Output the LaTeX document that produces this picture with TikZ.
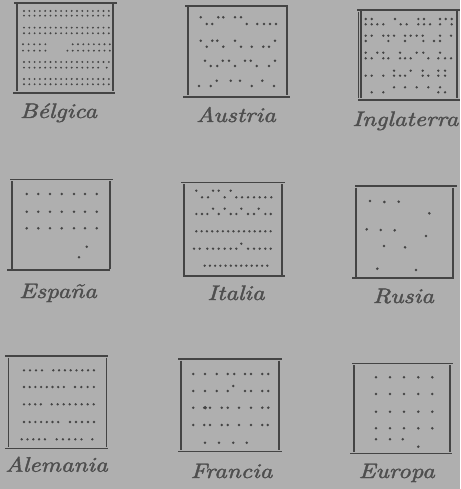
\documentclass[tikz,border=0pt]{standalone}
\usepackage{tikz}
\usepackage{fontspec}
\newfontfamily\labfont{lmroman10-italic.otf}[FakeBold=1.6]
\definecolor{bgc}{RGB}{175,175,175}
\definecolor{ink}{RGB}{68,68,68}
\definecolor{txt}{RGB}{78,78,78}
\newcommand\drow[3]{\foreach \xx in {#3} {\fill[ink] (\xx,#2) circle[radius=#1];}}
\newcommand\bxframe[8]{%
  \draw[hline] (#5,#3) -- (#6,#3);
  \draw[hline] (#7,#4) -- (#8,#4);
  \draw[vline] (#1,#3+1.5) -- (#1,#4-1.5);
  \draw[vline] (#2,#3+1.5) -- (#2,#4-1.5);
}
\tikzset{
  hline/.style={draw=ink,line width=1.5pt},
  vline/.style={draw=ink,line width=1.1pt},
  lab/.style={text=txt,font=\fontsize{21}{24}\labfont,xscale=1.18,inner sep=0pt,anchor=base},
}
\begin{document}
\begin{tikzpicture}[x=1pt,y=-1pt]
\useasboundingbox (0,0) rectangle (460,489);
\fill[bgc] (0,0) rectangle (460,489);

% ---------------- Belgica
\bxframe{17}{113}{3}{93}{14}{117}{13}{115}
\def\rB{1.05pt}
\foreach \yy in {11,15.7,27.7,33.3,79,84.3}{
  \foreach \i in {0,...,16}{\fill[ink] ({24+5.3*\i},\yy) circle[radius=\rB];}}
\foreach \i in {0,...,4}{\fill[ink] ({23+5.6*\i},44.3) circle[radius=\rB];
                        \fill[ink] ({23+5.6*\i},50.7) circle[radius=\rB];}
\foreach \i in {0,...,7}{\fill[ink] ({72.7+5.3*\i},44.3) circle[radius=\rB];}
\foreach \i in {0,...,8}{\fill[ink] ({67.4+5.3*\i},50.7) circle[radius=\rB];}
\foreach \i in {0,...,16}{\fill[ink] ({24+5.3*\i},62) circle[radius=\rB];}
\foreach \i in {0,...,14}{\fill[ink] ({24+5.3*\i},67.7) circle[radius=\rB];}
\fill[ink] (106.7,67.7) circle[radius=\rB];
\node[lab] (belgica) at (58.5,118) {Bélgica};

% ---------------- Austria
\def\rS{1.4pt}
\bxframe{188}{287}{6}{97}{185}{288}{183}{290}
\drow{\rS}{17.3}{200.7,218.3,223.3,235,241}
\drow{\rS}{24}{206.7,212.3,246.7,257.3,264,270,276}
\drow{\rS}{40.7}{200.7,212.3,217.3,235,275}
\drow{\rS}{46.7}{206.7,223.3,241,251.7,263.3,269}
\drow{\rS}{60.7}{205,222.7,229,245,250.7,275}
\drow{\rS}{66}{210.7,217.3,235,256.7,269}
\drow{\rS}{80.7}{216.7,230.7,240,262.3}
\drow{\rS}{86}{199,210.7,251.7,274}
\node[lab] (austria) at (236,122) {Austria};

% ---------------- Inglaterra
\def\rI{1.3pt}
\bxframe{361}{457}{10}{100}{357}{460}{358}{460}
\draw[vline,line width=0.8pt] (358,12) -- (358,98);
\drow{\rI}{19}{365.7,371.7,395,418.3,424,440,445.7,451.7}
\drow{\rI}{24.3}{365.7,371.7,377.3,383.3,400.7,406.7,418.3,424,430,440,451.7}
\drow{\rI}{35.7}{365.7,371.7,383.3,388.3,394,405,410.7,416.7,422.7,440,451}
\drow{\rI}{41}{365.7,388.3,405,423.3,434,440}
\drow{\rI}{52.7}{365.7,377.3,383.3,400,416.7,423.3,440}
\drow{\rI}{58.3}{365.7,371.7,383.3,388.3,400,405,410.7,428.3,438.3,445,451}
\drow{\rI}{70.7}{394,410.7,422.7,438.3,445}
\drow{\rI}{75.7}{365.7,371.7,383.3,394,400,405,422.7,428.3,438.3,445}
\drow{\rI}{87.3}{394,405,416.7,428.3,440}
\drow{\rI}{92.3}{371.7,383.3,438.3,445}
\node[lab,anchor=base east] (inglaterra) at (458.5,126) {Inglaterra};

% ---------------- Espana
\bxframe{12}{110}{179.5}{270}{10}{113}{7}{110}
\foreach \yy in {194,211.7,228.3}{\drow{\rS}{\yy}{26.7,38.3,50,61.7,74,85,96.7}}
\fill[ink] (86.7,246.7) circle[radius=\rS];
\fill[ink] (79,257.3) circle[radius=\rS];
\node[lab] (espana) at (58,298) {España};

% ---------------- Italia
\bxframe{184}{282}{182.5}{276}{181}{285}{183}{285}
\drow{\rI}{190.7}{196.3,213,218.7,230.7}
\drow{\rI}{197.3}{202,208,224.7,236.3,242,248,254,259.7,265.3,271.3}
\drow{\rI}{208.7}{213,224.7,241.3,258.7}
\drow{\rI}{214}{196.3,202,207.3,218.7,230.7,236.3,248,254,265.3,270.7}
\foreach \i in {0,...,14}{\fill[ink] ({196.3+5.31*\i},231.3) circle[radius=\rI];}
\fill[ink] (241.3,243.7) circle[radius=\rI];
\drow{\rI}{248.7}{194,199.7,207.3,213,218.7,224.7,230.7,236.3,248,254,259.7,265.3,270.7}
\foreach \i in {0,...,12}{\fill[ink] ({204.7+5.22*\i},265.7) circle[radius=\rI];}
\node[lab] (italia) at (236,300) {Italia};

% ---------------- Rusia
\bxframe{356}{453}{186}{278}{355}{457}{352}{454}
\foreach \p in {(370,201),(384.3,202),(398.7,201.7),(429.3,213.3),(366.7,229.3),(380.7,230),(394.7,230.3),(426,236),(384,246),(405,247.3),(377.3,268.7),(416,270)}
  {\fill[ink] \p circle[radius=1.45pt];}
\node[lab] (rusia) at (403.3,303) {Rusia};

% ---------------- Alemania
\bxframe{8.5}{106.5}{356}{448.5}{5}{108}{5}{108}
\def\rA{1.3pt}
\foreach \i in {0,...,3}{\fill[ink] ({24+6*\i},370.3) circle[radius=\rA];}
\foreach \i in {0,...,7}{\fill[ink] ({53.3+5.8*\i},370.3) circle[radius=\rA];}
\foreach \i in {0,...,7}{\fill[ink] ({24+5.7*\i},387) circle[radius=\rA];}
\foreach \i in {0,...,3}{\fill[ink] ({75+6.3*\i},387) circle[radius=\rA];}
\foreach \i in {0,...,3}{\fill[ink] ({24+5.6*\i},404.3) circle[radius=\rA];}
\foreach \i in {0,...,7}{\fill[ink] ({51.7+6*\i},404.3) circle[radius=\rA];}
\foreach \i in {0,...,6}{\fill[ink] ({24+5.7*\i},422) circle[radius=\rA];}
\foreach \i in {0,...,4}{\fill[ink] ({70+6*\i},422) circle[radius=\rA];}
\foreach \i in {0,...,4}{\fill[ink] ({21.7+5.8*\i},439.3) circle[radius=\rA];}
\foreach \i in {0,...,4}{\fill[ink] ({56.7+6.2*\i},439.3) circle[radius=\rA];}
\fill[ink] (92.3,439.3) circle[radius=\rA];
\node[lab] (alemania) at (56.5,471.7) {Alemania};

% ---------------- Francia
\bxframe{181}{279}{359}{451.5}{178}{282}{178}{282}
\drow{\rS}{374}{193.3,205,216.7,227.7,234.3,245,251,262.3,268.3}
\fill[ink] (233.3,386) circle[radius=\rS];
\drow{\rS}{391}{193.3,205,216.7,227.7,245,251,262.3,268.3}
\drow{\rS}{407.7}{193.3,204.3,210,221.7,227.7,239,251,262.3,268.3}
\fill[ink] (205.3,407.7) circle[radius=1.8pt];
\drow{\rS}{425}{193.3,204.3,210,221.7,227.7,239,251,262.3,267.7}
\drow{\rS}{442.7}{205,219,233.3,246.7}
\node[lab] (francia) at (231.5,478) {Francia};

% ---------------- Europa
\bxframe{354}{450}{363.5}{453.5}{352}{453}{350}{452}
\foreach \yy in {377.3,394,411.7,428.3}{\drow{\rS}{\yy}{376,390,404,418.3,432.3}}
\drow{\rS}{439.3}{376,390,402.7}
\fill[ink] (418.3,446.7) circle[radius=\rS];
\node[lab] (europa) at (396.7,478) {Europa};
\end{tikzpicture}
\end{document}
